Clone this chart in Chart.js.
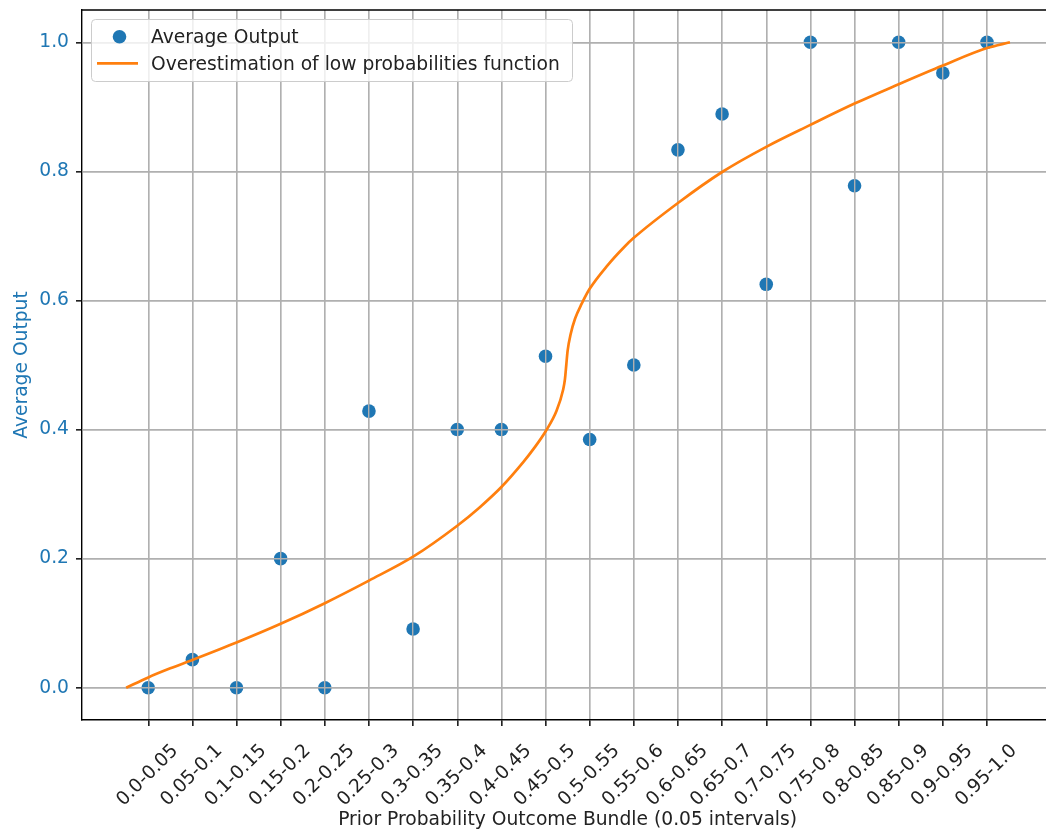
<!DOCTYPE html>
<html>
<head>
<meta charset="utf-8">
<script src="https://cdn.jsdelivr.net/npm/chart.js@4.4.1/dist/chart.umd.min.js"></script>
<style>
  html, body { margin: 0; padding: 0; background: #fff; overflow: hidden; }
  #wrap { width: 1060px; height: 831px; position: relative; }
</style>
</head>
<body>
<div id="wrap"><canvas id="c"></canvas></div>
<script>
// ---- data ----
const categories = ['0.0-0.05','0.05-0.1','0.1-0.15','0.15-0.2','0.2-0.25','0.25-0.3','0.3-0.35','0.35-0.4','0.4-0.45','0.45-0.5',
                    '0.5-0.55','0.55-0.6','0.6-0.65','0.65-0.7','0.7-0.75','0.75-0.8','0.8-0.85','0.85-0.9','0.9-0.95','0.95-1.0'];
const averageOutput = [0.0, 0.0435, 0.0, 0.2, 0.0, 0.4286, 0.0909, 0.4, 0.4, 0.5135,
                       0.3846, 0.5, 0.8333, 0.8889, 0.625, 1.0, 0.7778, 1.0, 0.9524, 1.0];
// curve (x in category units)
const curveX = [-0.5, 0.0, 0.5, 1.0, 2.0, 3.0, 4.0, 5.0, 6.0, 7.0, 7.5, 8.0, 8.5, 8.75, 9.0, 9.25, 9.4, 9.44, 9.47, 9.5, 9.57, 9.67, 9.82,
                10.0, 10.4, 10.8, 11.0, 12.0, 13.0, 14.0, 15.0, 16.0, 17.0, 18.0, 19.0, 19.52];
const curveY = [0.0, 0.016, 0.030, 0.043, 0.070, 0.099, 0.131, 0.166, 0.203, 0.251, 0.279, 0.311, 0.350, 0.372, 0.397, 0.429, 0.462, 0.478, 0.500, 0.522, 0.548, 0.572, 0.595,
                0.618, 0.654, 0.684, 0.697, 0.751, 0.799, 0.838, 0.872, 0.905, 0.935, 0.964, 0.991, 1.0];
const yTicks = [0.0, 0.2, 0.4, 0.6, 0.8, 1.0];
const seriesNames = ['Average Output', 'Overestimation of low probabilities function'];

const BLUE = '#1f77b4', ORANGE = '#ff7f0e';
const FS = 18.7;
Chart.defaults.font.family = 'DejaVu Sans';
Chart.defaults.font.size = FS;
Chart.defaults.color = '#222';

const gridRedraw = {
  id: 'gridRedraw',
  afterDatasetDraw(chart, args) {
    if (args.index === 1) {
      chart.scales.x.drawGrid(chart.chartArea);
      chart.scales.y.drawGrid(chart.chartArea);
    }
  },
  afterDraw(chart) {
    const ctx = chart.ctx, a = chart.chartArea;
    ctx.save();
    ctx.strokeStyle = '#000';
    ctx.lineWidth = 1.4;
    ctx.beginPath();
    ctx.moveTo(a.left, a.top); ctx.lineTo(a.right, a.top); ctx.lineTo(a.right, a.bottom);
    ctx.stroke();
    // legend
    const x0 = 91.5, y0 = 19.5, w = 481, h = 62;
    ctx.beginPath();
    ctx.roundRect(x0, y0, w, h, 4);
    ctx.fillStyle = 'rgba(255,255,255,0.8)';
    ctx.fill();
    ctx.strokeStyle = '#cccccc';
    ctx.lineWidth = 1;
    ctx.stroke();
    ctx.fillStyle = BLUE;
    ctx.beginPath();
    ctx.arc(119.5, 36.7, 6.8, 0, Math.PI * 2);
    ctx.fill();
    ctx.strokeStyle = ORANGE;
    ctx.lineWidth = 2.7;
    ctx.beginPath();
    ctx.moveTo(97, 63.3); ctx.lineTo(138, 63.3);
    ctx.stroke();
    ctx.fillStyle = '#222';
    ctx.font = FS + 'px "DejaVu Sans"';
    ctx.textBaseline = 'alphabetic';
    ctx.textAlign = 'left';
    ctx.fillText(seriesNames[0], 151, 43.3);
    ctx.fillText(seriesNames[1], 151, 70);
    ctx.restore();
  }
};

new Chart(document.getElementById('c'), {
  type: 'scatter',
  data: {
    datasets: [
      {
        label: seriesNames[1],
        data: curveX.map((x, i) => ({x: x, y: curveY[i]})),
        showLine: true,
        borderColor: ORANGE,
        backgroundColor: ORANGE,
        borderWidth: 2.7,
        pointRadius: 0,
        cubicInterpolationMode: 'monotone',
        order: 0
      },
      {
        label: seriesNames[0],
        data: averageOutput.map((v, i) => ({x: i, y: v})),
        backgroundColor: BLUE,
        borderColor: BLUE,
        pointRadius: 6.8,
        borderWidth: 0,
        order: 1
      }
    ]
  },
  options: {
    responsive: true,
    maintainAspectRatio: false,
    animation: false,
    layout: { padding: { left: 0, right: 6.5, top: 10, bottom: 0 } },
    plugins: { legend: { display: false }, tooltip: { enabled: false } },
    scales: {
      x: {
        type: 'linear',
        min: -1.5, max: 20.5,
        afterBuildTicks: s => { s.ticks = categories.map((c, i) => ({value: i})); },
        afterFit: s => { s.height = 111; s.paddingLeft = 0; s.paddingRight = 0; },
        ticks: {
          autoSkip: false, maxRotation: 45, minRotation: 45,
          labelOffset: 27, padding: 14,
          color: '#222',
          callback: v => categories[v]
        },
        grid: { color: '#b0b0b0', lineWidth: 1.4, tickColor: '#222', tickLength: 6 },
        border: { color: '#000', width: 1.4 },
        title: { display: true, text: 'Prior Probability Outcome Bundle (0.05 intervals)', color: '#222',
                 padding: { top: 0, bottom: 0 } }
      },
      y: {
        min: -0.05, max: 1.05,
        afterBuildTicks: s => { s.ticks = yTicks.map(v => ({value: v})); },
        afterFit: s => { s.width = 82; s.paddingTop = 0; s.paddingBottom = 0; },
        ticks: { color: BLUE, padding: 7, callback: v => Number(v).toFixed(1) },
        grid: { color: '#b0b0b0', lineWidth: 1.4, tickColor: '#222', tickLength: 6 },
        border: { color: '#000', width: 1.4 },
        title: { display: true, text: 'Average Output', color: BLUE, padding: { top: 11, bottom: 0 } }
      }
    }
  },
  plugins: [gridRedraw]
});
</script>
</body>
</html>
